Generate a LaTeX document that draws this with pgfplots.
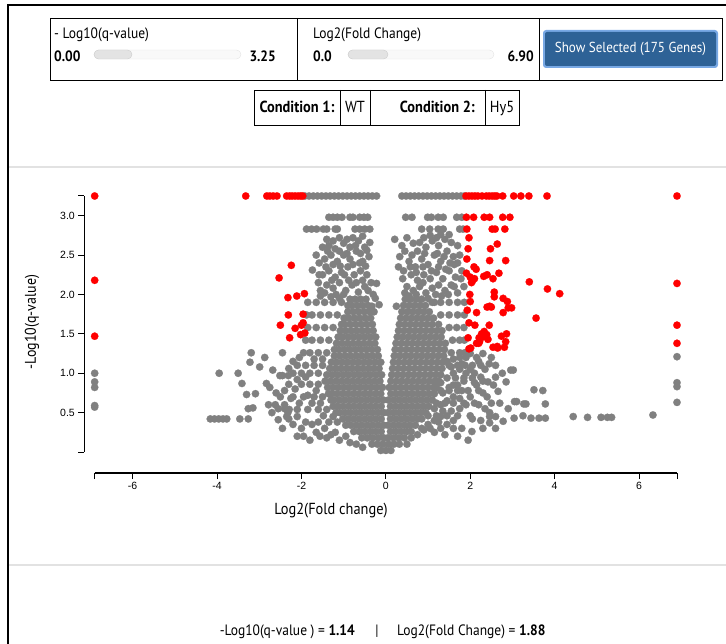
\documentclass[border=0pt]{standalone}
\usepackage{pgfplots}
\pgfplotsset{compat=1.18}
\usepackage{fontspec}
\setmainfont{Liberation Sans}
\newfontfamily\ui{PT Sans}[FakeStretch=0.9]
\definecolor{dotgray}{RGB}{128,128,128}
\definecolor{dotred}{RGB}{255,0,0}
\definecolor{btnblue}{RGB}{46,98,150}
\definecolor{btnglow}{RGB}{120,168,228}
\definecolor{sepgray}{RGB}{226,226,226}
\newcommand{\uif}[1]{\ui\fontsize{#1}{#1}\selectfont}
\begin{document}
\begin{tikzpicture}[x=1pt,y=1pt]
\path[use as bounding box] (0,0) rectangle (726,-644);
% page frame and separators
\draw[line width=2pt] (8,-644) -- (8,-5) -- (726,-5);
\draw[sepgray, line width=1.2pt] (9,-167) -- (726,-167);
\draw[sepgray, line width=1.2pt] (9,-565) -- (726,-565);
% filter boxes
\draw[line width=0.8pt] (50,-18) rectangle (722,-80);
\draw[line width=0.8pt] (297,-18) -- (297,-80);
\draw[line width=0.8pt] (539,-18) -- (539,-80);
\node[anchor=base west, inner sep=0, font=\uif{15}] at (54,-39) {- Log10(q-value)};
\node[anchor=base west, inner sep=0, font=\uif{15}\bfseries] at (54,-62) {0.00};
\draw[gray!22, fill=gray!5, rounded corners=4.5pt] (94,-50) rectangle (241,-59);
\draw[gray!40, fill=gray!22, rounded corners=4.5pt] (94,-50) rectangle (132,-59);
\node[anchor=base east, inner sep=0, font=\uif{15}\bfseries] at (276,-62) {3.25};
\node[anchor=base west, inner sep=0, font=\uif{15}] at (313,-39) {Log2(Fold Change)};
\node[anchor=base west, inner sep=0, font=\uif{15}\bfseries] at (313,-62) {0.0};
\draw[gray!22, fill=gray!5, rounded corners=4.5pt] (348,-50) rectangle (494,-59);
\draw[gray!40, fill=gray!22, rounded corners=4.5pt] (348,-50) rectangle (388,-59);
\node[anchor=base east, inner sep=0, font=\uif{15}\bfseries] at (534,-62) {6.90};
\fill[btnglow, rounded corners=3pt] (543,-30) rectangle (718,-68);
\fill[btnblue, rounded corners=2pt] (545,-32) rectangle (716,-66);
\node[white, font=\uif{14.5}] at (630.5,-49) {Show Selected (175 Genes)};
% condition table
\draw[line width=0.8pt] (254,-90) rectangle (519,-125);
\draw[line width=0.8pt] (340,-90) -- (340,-125);
\draw[line width=0.8pt] (370,-90) -- (370,-125);
\draw[line width=0.8pt] (485,-90) -- (485,-125);
\node[anchor=base, inner sep=0, font=\uif{16}\bfseries] at (297,-113) {Condition 1:};
\node[anchor=base, inner sep=0, font=\uif{16}] at (355,-113) {WT};
\node[anchor=base east, inner sep=0, font=\uif{16}\bfseries] at (475,-113) {Condition 2:};
\node[anchor=base, inner sep=0, font=\uif{16}] at (502,-113) {Hy5};
% axis titles
\node[rotate=90, font=\uif{15.5}] at (32,-322) {-Log10(q-value)};
\node[font=\uif{16}] at (331,-511) {Log2(Fold change)};
% threshold readout
\node[anchor=base east, inner sep=0, font=\uif{15}] at (355,-635) {-Log10(q-value ) = \textbf{1.14}};
\node[anchor=base, inner sep=0, font=\uif{15}] at (377,-635) {|};
\node[anchor=base west, inner sep=0, font=\uif{15}] at (397,-635) {Log2(Fold Change) = \textbf{1.88}};

\begin{axis}[
  at={(84.3pt,-473pt)}, anchor=south west,
  scale only axis, width=592.7pt, height=277pt,
  xmin=-7.146, xmax=6.9, ymin=-0.2665, ymax=3.25,
  clip=false,
  axis x line*=bottom, axis y line*=left,
  axis line style={draw=none},
  tick align=outside, major tick length=6pt,
  tick style={black, line width=1pt},
  xtick={-6,-4,-2,0,2,4,6},
  xticklabels={-6,-4,-2,0,2,4,6},
  ytick={0.5,1,1.5,2,2.5,3},
  yticklabels={0.5,1.0,1.5,2.0,2.5,3.0},
  extra x ticks={-6.9,6.9}, extra x tick labels={},
  extra y ticks={0,3.25}, extra y tick labels={},
  ticklabel style={font=\fontsize{10.5}{12}\selectfont},
]
\draw[line width=1.2pt] (axis cs:-6.9,-0.2665) -- (axis cs:6.9,-0.2665);
\draw[line width=1.2pt] (axis cs:-7.146,0) -- (axis cs:-7.146,3.25);

% not significant genes
\addplot[only marks, mark=*, mark size=3.7pt, color=dotgray, fill=dotgray, mark options={line width=0.2pt}] coordinates {
(-0.12,0.02)(0,0.02)(0.12,0.02)
(-0.33,0.1)(-0.2,0.1)(-0.07,0.1)(0.06,0.1)(0.19,0.1)(0.32,0.1)
(-0.05,0.18)(-0.18,0.18)(-0.31,0.18)(-0.44,0.18)(-0.57,0.18)(0.05,0.18)(0.18,0.18)(0.31,0.18)(0.44,0.18)
(-0.11,0.26)(-0.24,0.26)(-0.37,0.26)(-0.5,0.26)(-0.63,0.26)(-0.76,0.26)(0.11,0.26)(0.24,0.26)(0.37,0.26)(0.5,0.26)(0.6,0.26)
(-0.05,0.34)(-0.18,0.34)(-0.31,0.34)(-0.44,0.34)(-0.57,0.34)(-0.7,0.34)(-0.83,0.34)(-0.95,0.34)(0.05,0.34)(0.18,0.34)(0.31,0.34)(0.44,0.34)(0.57,0.34)(0.7,0.34)
(-0.11,0.42)(-0.24,0.42)(-0.37,0.42)(-0.5,0.42)(-0.63,0.42)(-0.76,0.42)(-0.89,0.42)(-1.02,0.42)(0.11,0.42)(0.24,0.42)(0.37,0.42)(0.5,0.42)(0.63,0.42)(0.76,0.42)(0.85,0.42)
(-0.05,0.5)(-0.18,0.5)(-0.31,0.5)(-0.44,0.5)(-0.57,0.5)(-0.7,0.5)(-0.83,0.5)(-0.96,0.5)(-1.09,0.5)(-1.18,0.5)(0.05,0.5)(0.18,0.5)(0.31,0.5)(0.44,0.5)(0.57,0.5)(0.7,0.5)(0.83,0.5)(0.95,0.5)
(-0.11,0.58)(-0.24,0.58)(-0.37,0.58)(-0.5,0.58)(-0.63,0.58)(-0.76,0.58)(-0.89,0.58)(-1.02,0.58)(-1.15,0.58)(-1.25,0.58)(0.11,0.58)(0.24,0.58)(0.37,0.58)(0.5,0.58)(0.63,0.58)(0.76,0.58)(0.89,0.58)(1.02,0.58)
(-0.06,0.66)(-0.19,0.66)(-0.32,0.66)(-0.45,0.66)(-0.58,0.66)(-0.71,0.66)(-0.84,0.66)(-0.97,0.66)(-1.1,0.66)(-1.23,0.66)(-1.3,0.66)(0.06,0.66)(0.19,0.66)(0.32,0.66)(0.45,0.66)(0.58,0.66)(0.71,0.66)(0.84,0.66)(0.97,0.66)(1.1,0.66)
(-0.12,0.74)(-0.25,0.74)(-0.38,0.74)(-0.51,0.74)(-0.64,0.74)(-0.77,0.74)(-0.9,0.74)(-1.03,0.74)(-1.16,0.74)(-1.29,0.74)(-1.36,0.74)(0.12,0.74)(0.25,0.74)(0.38,0.74)(0.51,0.74)(0.64,0.74)(0.77,0.74)(0.9,0.74)(1.03,0.74)(1.15,0.74)
(-0.08,0.82)(-0.21,0.82)(-0.34,0.82)(-0.47,0.82)(-0.6,0.82)(-0.73,0.82)(-0.86,0.82)(-0.99,0.82)(-1.12,0.82)(-1.25,0.82)(-1.38,0.82)(0.08,0.82)(0.21,0.82)(0.34,0.82)(0.47,0.82)(0.6,0.82)(0.73,0.82)(0.86,0.82)(0.99,0.82)(1.12,0.82)(1.2,0.82)
(-0.14,0.9)(-0.27,0.9)(-0.4,0.9)(-0.53,0.9)(-0.66,0.9)(-0.79,0.9)(-0.92,0.9)(-1.05,0.9)(-1.18,0.9)(-1.31,0.9)(-1.44,0.9)(0.12,0.9)(0.25,0.9)(0.38,0.9)(0.51,0.9)(0.64,0.9)(0.77,0.9)(0.9,0.9)(1.03,0.9)(1.16,0.9)(1.25,0.9)
(-0.1,0.98)(-0.23,0.98)(-0.36,0.98)(-0.49,0.98)(-0.62,0.98)(-0.75,0.98)(-0.88,0.98)(-1.01,0.98)(-1.14,0.98)(-1.27,0.98)(-1.4,0.98)(0.14,0.98)(0.27,0.98)(0.4,0.98)(0.53,0.98)(0.66,0.98)(0.79,0.98)(0.92,0.98)(1.05,0.98)(1.18,0.98)(1.3,0.98)
(-0.16,1.06)(-0.29,1.06)(-0.42,1.06)(-0.55,1.06)(-0.68,1.06)(-0.81,1.06)(-0.94,1.06)(-1.07,1.06)(-1.2,1.06)(-1.33,1.06)(0.16,1.06)(0.29,1.06)(0.42,1.06)(0.55,1.06)(0.68,1.06)(0.81,1.06)(0.94,1.06)(1.07,1.06)(1.2,1.06)(1.33,1.06)
(-0.12,1.14)(-0.25,1.14)(-0.38,1.14)(-0.51,1.14)(-0.64,1.14)(-0.77,1.14)(-0.9,1.14)(-1.03,1.14)(-1.16,1.14)(-1.29,1.14)(0.18,1.14)(0.31,1.14)(0.44,1.14)(0.57,1.14)(0.7,1.14)(0.83,1.14)(0.96,1.14)(1.09,1.14)(1.22,1.14)(1.35,1.14)
(-0.18,1.22)(-0.31,1.22)(-0.44,1.22)(-0.57,1.22)(-0.7,1.22)(-0.83,1.22)(-0.96,1.22)(-1.09,1.22)(-1.22,1.22)(0.2,1.22)(0.33,1.22)(0.46,1.22)(0.59,1.22)(0.72,1.22)(0.85,1.22)(0.98,1.22)(1.11,1.22)(1.24,1.22)(1.37,1.22)
(-0.2,1.3)(-0.33,1.3)(-0.46,1.3)(-0.59,1.3)(-0.72,1.3)(-0.85,1.3)(-0.98,1.3)(-1.11,1.3)(-1.22,1.3)(0.22,1.3)(0.35,1.3)(0.48,1.3)(0.61,1.3)(0.74,1.3)(0.87,1.3)(1.0,1.3)(1.13,1.3)(1.26,1.3)(1.39,1.3)
(-0.26,1.38)(-0.39,1.38)(-0.52,1.38)(-0.65,1.38)(-0.78,1.38)(-0.91,1.38)(-1.04,1.38)(-1.17,1.38)(0.24,1.38)(0.37,1.38)(0.5,1.38)(0.63,1.38)(0.76,1.38)(0.89,1.38)(1.02,1.38)(1.15,1.38)(1.28,1.38)(1.41,1.38)
(-0.24,1.46)(-0.37,1.46)(-0.5,1.46)(-0.63,1.46)(-0.76,1.46)(-0.89,1.46)(-1.02,1.46)(-1.13,1.46)(0.27,1.46)(0.4,1.46)(0.53,1.46)(0.66,1.46)(0.79,1.46)(0.92,1.46)(1.05,1.46)(1.18,1.46)(1.31,1.46)
(-0.3,1.54)(-0.43,1.54)(-0.56,1.54)(-0.69,1.54)(-0.82,1.54)(-0.95,1.54)(-1.08,1.54)(0.3,1.54)(0.43,1.54)(0.56,1.54)(0.69,1.54)(0.82,1.54)(0.95,1.54)(1.08,1.54)(1.21,1.54)(1.33,1.54)
(-0.32,1.62)(-0.45,1.62)(-0.58,1.62)(-0.71,1.62)(-0.84,1.62)(-0.97,1.62)(-1.05,1.62)(0.32,1.62)(0.45,1.62)(0.58,1.62)(0.71,1.62)(0.84,1.62)(0.97,1.62)(1.1,1.62)(1.25,1.62)
(-0.36,1.7)(-0.49,1.7)(-0.62,1.7)(-0.75,1.7)(-0.88,1.7)(-0.99,1.7)(0.35,1.7)(0.48,1.7)(0.61,1.7)(0.74,1.7)(0.87,1.7)(1.0,1.7)(1.13,1.7)
(-0.38,1.78)(-0.51,1.78)(-0.64,1.78)(-0.77,1.78)(-0.9,1.78)(0.38,1.78)(0.51,1.78)(0.64,1.78)(0.77,1.78)(0.9,1.78)(1.03,1.78)
(-0.42,1.86)(-0.55,1.86)(-0.68,1.86)(-0.81,1.86)(-0.9,1.86)(0.42,1.86)(0.55,1.86)(0.68,1.86)(0.81,1.86)(0.94,1.86)
(-0.47,1.94)(-0.6,1.94)(-0.73,1.94)(-0.85,1.94)(0.46,1.94)(0.59,1.94)(0.72,1.94)(0.85,1.94)
(-1.5,1.1)(-1.7,1.1)(-1.9,1.1)(-2.1,1.1)
(-1.4,1.26)(-1.6,1.26)(-1.8,1.26)(-1.95,1.26)
(-1.35,1.42)(-1.55,1.42)(-1.75,1.42)(-1.9,1.42)
(-1.25,1.58)(-1.45,1.58)(-1.65,1.58)(-1.85,1.58)
(-1.15,1.74)(-1.35,1.74)(-1.55,1.74)(-1.75,1.74)(-1.88,1.74)
(-1.05,1.9)(-1.25,1.9)(-1.45,1.9)(-1.65,1.9)(-1.85,1.9)
(1.5,1.1)(1.7,1.1)(1.88,1.1)(2.05,1.1)(2.25,1.1)
(1.55,1.26)(1.75,1.26)(1.87,1.26)
(1.58,1.42)(1.75,1.42)(1.86,1.42)
(1.5,1.58)(1.68,1.58)(1.85,1.58)
(1.3,1.74)(1.5,1.74)(1.7,1.74)(1.86,1.74)
(1.1,1.9)(1.3,1.9)(1.5,1.9)(1.7,1.9)(1.86,1.9)
(-1.15,0.38)(-1.35,0.38)(-1.6,0.38)(-1.9,0.38)
(-1.4,0.54)(-1.6,0.54)(-1.85,0.54)(-2.1,0.54)
(-1.5,0.7)(-1.7,0.7)(-1.95,0.7)(-2.2,0.7)
(-1.6,0.86)(-1.8,0.86)(-2.0,0.86)(-2.3,0.86)
(-1.6,1.0)(-1.8,1.0)(-2.0,1.0)(-2.2,1.0)
(0.85,0.3)(1.05,0.3)(1.3,0.3)(1.6,0.3)
(1.0,0.46)(1.2,0.46)(1.45,0.46)(1.7,0.46)(2.0,0.46)
(1.2,0.62)(1.4,0.62)(1.6,0.62)(1.85,0.62)(2.1,0.62)
(1.3,0.78)(1.5,0.78)(1.7,0.78)(1.95,0.78)(2.2,0.78)
(1.45,0.94)(1.65,0.94)(1.85,0.94)(2.05,0.94)
(-0.95,0.2)(-1.1,0.15)(-0.85,0.12)(-1.2,0.25)(-1.65,0.25)(-1.4,0.18)(-1.56,0.2)(-2.0,0.3)(-1.95,0.2)
(-2.25,0.68)(-2.4,0.6)(-2.55,0.55)(-2.1,0.45)(-2.3,0.42)(-2.7,0.5)(-2.6,0.75)(-2.45,0.97)(-2.3,1.06)(-2.2,1.15)
(-3.95,1.0)(-3.5,1.0)(-3.41,0.87)(-3.3,0.73)(-3.19,1.26)(-3.22,1.14)(-2.99,1.08)
(-4.16,0.42)(-4.06,0.42)(-3.96,0.42)(-3.86,0.42)(-3.77,0.42)(-3.46,0.42)(-3.26,0.42)
(-3.26,0.55)(-3.15,0.56)(-3.09,0.74)(-2.87,1.2)(-2.68,1.04)(-2.45,1.26)(-2.51,0.97)(-2.31,0.97)(-2.83,0.87)(-2.75,0.82)
(-2.78,0.6)(-2.62,0.6)(-2.55,0.41)(-2.35,0.45)(-2.32,0.5)(-2.4,0.55)(-2.29,0.54)(-2.1,0.2)
(-1.25,0.45)(-1.48,0.46)(-1.75,0.62)(-1.55,0.62)(-1.65,0.78)(-1.85,0.72)(-2.05,0.62)(-1.9,0.95)(-2.1,0.92)(-2.15,0.8)
(-2.4,0.78)(-2.5,0.7)(-1.7,1.18)(-2.05,1.2)(-1.5,1.18)(-1.45,0.3)(-1.3,0.22)(-1.75,0.35)(-2.2,0.35)(-2.45,0.3)(-1.8,0.15)(-0.7,0.1)(-0.55,0.06)(0.5,0.1)
(0.6,0.18)(0.75,0.22)(0.9,0.28)(1.0,0.35)(1.15,0.4)(1.3,0.45)(1.15,0.55)(1.3,0.6)(1.45,0.65)(1.6,0.7)
(1.35,0.75)(1.5,0.82)(1.7,0.85)(1.85,0.9)(1.3,0.88)(1.6,1.0)(1.75,1.05)(1.9,1.0)(1.45,1.15)(1.6,1.18)(1.75,1.2)(1.9,1.2)
(2.15,0.85)(2.3,0.75)(2.2,0.6)(2.35,0.55)(2.5,0.62)(2.05,0.42)(2.25,0.4)(2.6,0.45)(1.75,0.55)(1.9,0.6)(1.6,0.4)(1.45,0.35)(1.8,0.3)(2.04,0.26)
(1.15,0.25)(1.4,0.22)(1.7,0.2)(1.25,0.38)(1.55,0.52)(1.35,0.52)(1.75,0.68)(2.0,0.7)(1.6,0.85)(1.8,0.78)(2.1,0.88)(2.25,0.95)
(2.4,0.7)(2.55,0.85)(1.55,1.08)(1.8,1.12)(2.0,1.05)(2.3,0.9)(2.6,0.95)(2.7,0.62)(2.6,0.3)(2.3,0.3)(1.95,0.15)
(2.42,0.89)(2.66,0.77)(2.76,1.0)(2.96,1.04)(3.02,1.04)(2.85,0.89)(2.9,0.55)(2.78,0.39)(3.04,0.43)(3.25,0.46)(3.44,0.43)(3.63,0.43)(3.78,0.43)
(3.05,0.64)(3.1,0.64)(3.27,0.61)(3.32,0.61)(3.51,0.79)(3.72,0.78)(3.78,0.61)(2.46,0.37)(2.46,0.45)(2.46,0.5)
(4.44,0.45)(4.78,0.44)(5.1,0.44)(5.25,0.44)(5.35,0.44)(6.33,0.47)
(2.1,1.0)(2.2,1.15)(2.35,1.05)(2.0,1.25)(2.15,1.2)(2.3,1.25)(2.5,1.2)(2.6,1.1)(2.45,1.12)
(-1.55,2.05)(-1.4,2.12)(-1.25,2.08)(-1.1,2.15)(-0.95,2.05)(-0.8,2.12)(-0.65,2.03)(-0.5,2.1)(-0.35,2.15)(-0.22,2.14)
(-1.5,2.25)(-1.35,2.3)(-1.2,2.22)(-1.05,2.28)(-0.9,2.35)(-0.75,2.25)(-0.6,2.3)(-0.45,2.25)
(-1.58,2.4)(-1.45,2.45)(-1.3,2.5)(-1.15,2.42)(-1.0,2.5)(-0.85,2.45)(-0.7,2.55)(-0.55,2.42)(-0.4,2.48)
(-1.5,2.6)(-1.35,2.62)(-1.2,2.58)(-1.0,2.65)(-0.85,2.6)(-0.65,2.68)(-0.5,2.6)(-0.38,2.66)(-1.1,2.72)(-0.78,2.72)(-0.55,2.74)
(-1.74,2.31)(-1.58,2.25)(-0.16,1.87)(-1.3,1.97)(-1.1,1.95)(-1.0,2.0)(-0.3,2.0)(-0.25,1.95)(-0.33,1.85)(-0.28,1.78)
(-1.45,2.02)(-1.18,2.0)(-0.88,2.18)(-0.7,2.15)(-0.42,2.05)(-1.28,2.18)(-1.42,2.35)(-1.25,2.38)(-1.08,2.36)(-0.78,2.38)
(-0.62,2.4)(-0.48,2.36)(-1.38,2.55)(-1.1,2.55)(-0.92,2.52)(-0.6,2.52)(-0.45,2.56)(-1.25,2.68)(-0.92,2.7)(-0.72,2.62)
(-1.6,2.15)(-1.65,2.5)(-1.55,1.98)(-0.55,2.18)(-0.98,2.25)(-1.4,2.7)
(0.21,2.7)(0.33,2.48)(0.45,2.55)(0.55,2.42)(0.7,2.35)(0.85,2.45)(1.0,2.38)(1.15,2.5)(1.3,2.42)(1.45,2.55)(1.6,2.48)(1.75,2.5)
(0.8,2.66)(0.95,2.6)(1.1,2.68)(1.25,2.62)(1.4,2.7)(1.55,2.66)(1.7,2.62)(1.05,2.75)(1.3,2.76)
(0.6,2.25)(0.75,2.18)(0.9,2.25)(1.05,2.2)(1.2,2.28)(1.35,2.2)(1.5,2.3)(1.65,2.22)(1.8,2.3)
(0.5,2.1)(0.65,2.05)(0.8,2.1)(0.95,2.02)(1.1,2.08)(1.25,2.12)(1.4,2.05)(1.55,2.12)(1.7,2.02)(1.85,2.1)(0.4,2.2)(0.3,2.35)(1.0,1.95)(1.15,1.9)(0.25,1.85)(0.5,2.72)
(0.42,2.3)(0.58,2.35)(0.72,2.28)(0.88,2.35)(1.08,2.3)(1.25,2.35)(1.42,2.32)(1.62,2.38)(0.62,2.5)(0.75,2.55)
(0.92,2.52)(1.22,2.52)(1.38,2.48)(1.52,2.4)(1.7,2.4)(0.65,2.65)(0.9,2.72)(1.2,2.72)(1.5,2.76)(0.38,2.62)
(0.55,1.98)(0.72,2.0)(0.88,2.15)(1.18,2.0)(1.32,1.98)(1.48,2.0)(1.62,2.1)(1.78,2.2)(0.45,2.02)
(-1.88,2.83)(-1.76,2.83)(-1.64,2.83)(-1.48,2.83)(-1.4,2.83)(-1.2,2.83)(-1.15,2.83)(-0.73,2.83)(-0.62,2.83)(-0.5,2.83)(-0.38,2.83)
(0.85,2.83)(1.04,2.83)(1.24,2.83)(1.36,2.83)(1.75,2.83)(1.83,2.83)
(-1.35,2.98)(-1.25,2.98)(-1.15,2.98)(-1.04,2.98)(-0.85,2.98)(-0.78,2.98)(-0.62,2.98)(-0.52,2.98)(-0.43,2.98)
(0.47,2.98)(0.62,2.98)(0.99,2.98)(1.08,2.98)(1.24,2.98)(1.36,2.98)(1.68,2.98)(1.8,2.98)
(-1.92,3.25)(-1.82,3.25)(-1.72,3.25)(-1.62,3.25)(-1.52,3.25)(-1.42,3.25)(-1.32,3.25)(-1.22,3.25)(-1.12,3.25)
(-1.02,3.25)(-0.92,3.25)(-0.82,3.25)(-0.72,3.25)(-0.62,3.25)(-0.52,3.25)(-0.42,3.25)(-0.32,3.25)(-0.22,3.25)
(0.38,3.25)(0.48,3.25)(0.58,3.25)(0.68,3.25)(0.78,3.25)(0.88,3.25)(0.98,3.25)(1.08,3.25)
(1.18,3.25)(1.28,3.25)(1.38,3.25)(1.48,3.25)(1.58,3.25)(1.68,3.25)(1.78,3.25)(1.86,3.25)
(-6.9,1.0)(-6.9,0.89)(-6.9,0.82)(-6.9,0.59)(-6.9,0.57)
(6.9,1.21)(6.9,0.88)(6.9,0.83)(6.9,0.63)
};

% significant genes
\addplot[only marks, mark=*, mark size=3.7pt, color=dotred, fill=dotred, mark options={line width=0.2pt}] coordinates {
(-6.9,3.25)(-6.9,2.18)(-6.9,1.47)
(-3.32,3.25)(-2.82,3.25)(-2.75,3.25)(-2.67,3.25)(-2.58,3.25)(-2.35,3.25)(-2.28,3.25)(-2.22,3.25)(-2.15,3.25)(-2.08,3.25)(-2.02,3.25)(-1.97,3.25)
(-2.24,2.37)(-2.53,2.21)(-1.93,2.01)(-2.32,1.96)(-2.11,1.98)(-2.31,1.74)(-1.96,1.75)(-2.5,1.61)(-1.96,1.64)(-2.0,1.61)
(-2.15,1.57)(-2.28,1.45)(-2.02,1.49)(-1.92,1.51)
(1.9,3.25)(1.97,3.25)(2.04,3.25)(2.11,3.25)(2.18,3.25)(2.28,3.25)(2.38,3.25)(2.45,3.25)(2.52,3.25)(2.58,3.25)(2.63,3.25)
(2.77,3.25)(3.03,3.25)(3.2,3.25)(3.39,3.25)(3.82,3.25)(6.9,3.25)
(1.91,2.98)(2.08,2.98)(2.33,2.98)(2.46,2.98)(2.77,2.98)(2.94,2.98)
(1.92,2.83)(2.52,2.83)(2.59,2.83)(2.82,2.83)
(1.97,2.72)(1.95,2.58)(2.48,2.58)(2.64,2.64)(2.46,2.43)(2.84,2.43)(2.09,2.35)(2.14,2.32)(1.91,2.27)
(2.0,2.22)(2.05,2.17)(2.1,2.2)(2.03,2.15)(2.32,2.23)(2.4,2.25)(2.54,2.2)(2.68,2.27)(3.4,2.16)(3.83,2.07)(4.12,2.01)
(1.99,2.0)(2.0,1.91)(2.57,2.03)(2.57,1.97)(2.78,1.95)(2.88,1.91)(2.4,1.84)(2.46,1.85)(2.5,1.84)(2.9,1.83)(2.98,1.83)
(2.78,1.77)(2.15,1.77)(3.56,1.7)(1.97,1.64)(2.11,1.61)(2.45,1.61)(2.27,1.5)(2.33,1.53)(2.39,1.49)(2.3,1.46)
(2.21,1.45)(2.22,1.4)(2.2,1.38)(2.42,1.43)(2.74,1.47)(2.86,1.5)(2.84,1.4)(2.01,1.32)(1.97,1.31)
(2.54,1.33)(2.64,1.34)(2.65,1.32)(2.81,1.33)(2.15,1.38)(1.92,2.45)(1.93,1.8)(1.95,1.45)
(6.9,2.14)(6.9,1.61)(6.9,1.38)
};
\end{axis}
\end{tikzpicture}
\end{document}
